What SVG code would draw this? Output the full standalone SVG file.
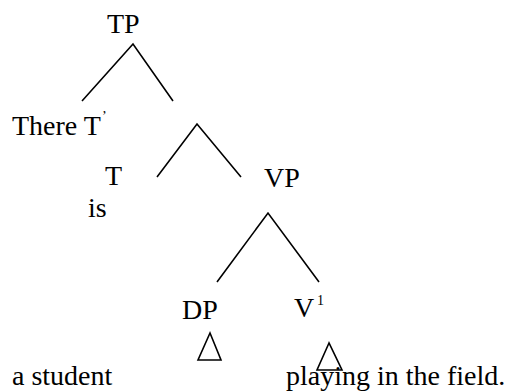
<svg xmlns="http://www.w3.org/2000/svg" width="516" height="391" viewBox="0 0 516 391">
<style>
.t{font-family:"Liberation Serif","Times New Roman",serif;font-size:28px;fill:#000}
.s{font-family:"Liberation Serif","Times New Roman",serif;font-size:14px;fill:#000}
.e{stroke:#000;stroke-width:1.6;fill:none;stroke-linecap:butt}
</style>
<rect width="516" height="391" fill="#fff"/>
<g id="connectors">
<polyline class="e" points="82,101 133,44 173,101"/>
<polyline class="e" points="157,177 197,124 241,177"/>
<polyline class="e" points="217,282 268,213 319,282"/>
<polygon class="e" points="210,333 198,360 221,360"/>
<polygon class="e" points="329,343 317,370 342,370"/>
</g>
<g id="TP"><text class="t" x="107" y="33">TP</text></g>
<g id="There"><text class="t" x="12" y="135">There T</text><text class="s" x="102" y="121">’</text></g>
<g id="T"><text class="t" x="105" y="185">T</text></g>
<g id="is"><text class="t" x="88" y="217">is</text></g>
<g id="VP"><text class="t" x="264" y="187">VP</text></g>
<g id="DP"><text class="t" x="182" y="319">DP</text></g>
<g id="V1"><text class="t" x="294" y="317">V</text><text class="s" x="317" y="305">1</text></g>
<g id="astudent"><text class="t" x="12" y="385">a student</text></g>
<g id="playing"><text class="t" x="286" y="385">playing in the field.</text></g>
</svg>
